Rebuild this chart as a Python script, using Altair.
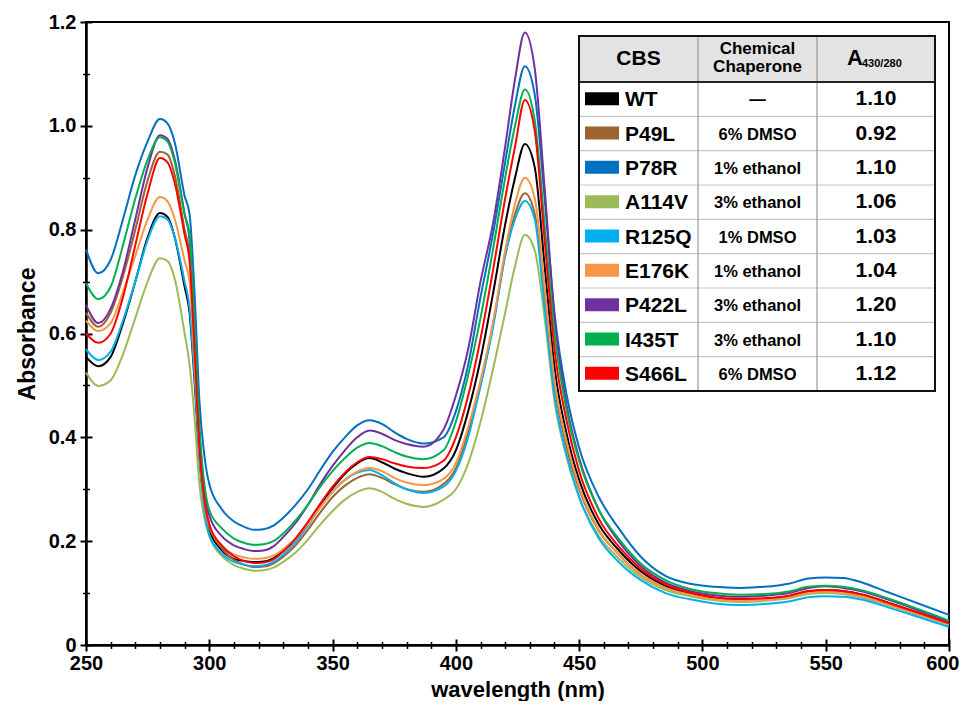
import altair as alt
import pandas as pd

# ---------------- data ----------------
wavelength = [250, 255, 260, 265, 270, 275, 280, 283, 286, 290,
              292, 294, 296, 298, 300, 305, 310, 314, 318, 322,
              326, 330, 335, 340, 345, 350, 355, 360, 365, 370,
              375, 380, 387, 395, 400, 405, 410, 415, 420, 424,
              428, 432, 436, 440, 445, 450, 458, 466, 475, 485,
              495, 505, 515, 525, 535, 543, 550, 557, 565, 575,
              587, 600]

WT = [.555, .537, .555, .62, .70, .785, .832, .825, .785, .69,
      .64, .51, .36, .27, .222, .183, .166, .162, .16, .161,
      .167, .181, .205, .235, .27, .302, .33, .35, .36, .352,
      .34, .331, .324, .34, .375, .45, .55, .675, .81, .90,
      .965, .92, .73, .535, .405, .318, .232, .183, .142, .114,
      .099, .09, .087, .089, .094, .103, .106, .104, .097, .082,
      .063, .042]
P49L = [.64, .613, .64, .71, .80, .895, .95, .945, .905, .80,
        .75, .58, .39, .285, .232, .187, .164, .155, .150, .151,
        .157, .17, .192, .222, .255, .285, .307, .322, .329, .322,
        .31, .30, .295, .31, .34, .41, .50, .615, .75, .83,
        .87, .83, .67, .50, .38, .30, .22, .175, .135, .11,
        .097, .088, .085, .087, .092, .10, .103, .10, .093, .079,
        .06, .04]
P78R = [.762, .716, .742, .82, .905, .97, 1.013, 1.005, .968, .865,
        .83, .68, .47, .365, .31, .262, .238, .228, .222, .223,
        .23, .245, .27, .30, .337, .372, .40, .423, .433, .426,
        .41, .397, .388, .40, .45, .54, .67, .79, .93, 1.04,
        1.115, 1.06, .86, .64, .48, .38, .285, .225, .17, .133,
        .118, .112, .110, .112, .118, .128, .130, .129, .12, .102,
        .081, .058]
A114V = [.525, .499, .51, .56, .63, .70, .745, .74, .705, .60,
         .54, .44, .31, .245, .21, .172, .154, .147, .143, .144,
         .149, .16, .178, .203, .232, .258, .28, .295, .302, .295,
         .282, .272, .266, .28, .30, .35, .43, .53, .64, .73,
         .79, .76, .63, .47, .36, .285, .21, .167, .13, .106,
         .094, .086, .083, .085, .09, .098, .10, .098, .091, .077,
         .059, .039]
R125Q = [.57, .549, .565, .625, .70, .78, .826, .82, .785, .70,
         .65, .52, .36, .26, .212, .176, .16, .155, .152, .153,
         .16, .174, .198, .23, .265, .295, .318, .332, .337, .327,
         .312, .30, .293, .305, .335, .40, .50, .61, .75, .82,
         .855, .82, .65, .48, .365, .285, .205, .16, .125, .10,
         .088, .08, .077, .079, .084, .092, .094, .093, .087, .073,
         .055, .035]
E176K = [.625, .605, .62, .68, .75, .82, .863, .855, .82, .74,
         .70, .55, .38, .275, .228, .192, .174, .169, .166, .167,
         .172, .185, .205, .233, .265, .295, .318, .334, .341, .335,
         .322, .313, .308, .32, .35, .42, .51, .62, .76, .85,
         .90, .86, .69, .51, .39, .305, .222, .175, .136, .11,
         .097, .088, .085, .087, .092, .10, .103, .10, .093, .079,
         .06, .04]
P422L = [.655, .620, .648, .72, .82, .92, .982, .975, .935, .83,
         .78, .61, .41, .30, .25, .21, .192, .185, .181, .182,
         .19, .208, .235, .27, .31, .345, .375, .40, .413, .407,
         .395, .387, .382, .415, .48, .57, .70, .81, .96, 1.09,
         1.18, 1.11, .88, .63, .46, .36, .26, .20, .152, .12,
         .104, .096, .093, .095, .10, .11, .113, .11, .103, .088,
         .068, .045]
I435T = [.697, .666, .69, .77, .86, .935, .978, .97, .93, .83,
         .79, .62, .42, .31, .26, .225, .205, .197, .193, .194,
         .20, .215, .24, .27, .305, .335, .36, .38, .389, .383,
         .372, .363, .358, .375, .43, .52, .63, .76, .90, 1.00,
         1.07, 1.01, .81, .60, .45, .355, .26, .205, .157, .125,
         .108, .10, .097, .098, .103, .112, .114, .112, .105, .09,
         .07, .047]
S466L = [.60, .582, .60, .67, .77, .87, .938, .93, .89, .79,
         .74, .57, .38, .28, .232, .192, .171, .162, .158, .159,
         .165, .18, .205, .237, .272, .305, .332, .352, .362, .358,
         .35, .344, .341, .355, .40, .48, .59, .72, .86, .96,
         1.05, .99, .78, .57, .43, .335, .243, .19, .147, .117,
         .101, .092, .089, .09, .095, .104, .106, .104, .097, .082,
         .063, .042]

names = ["WT", "P49L", "P78R", "A114V", "R125Q", "E176K", "P422L", "I435T", "S466L"]
chaperones = ["\u2014", "6% DMSO", "1% ethanol", "3% ethanol", "1% DMSO",
              "1% ethanol", "3% ethanol", "3% ethanol", "6% DMSO"]
ratios = ["1.10", "0.92", "1.10", "1.06", "1.03", "1.04", "1.20", "1.10", "1.12"]
colors = ["#000000", "#9C6431", "#0070C0", "#9BBB59", "#00B0F0",
          "#F79646", "#7030A0", "#00B050", "#FF0000"]

x_major = [250, 300, 350, 400, 450, 500, 550, 600]
x_minor = [260, 270, 280, 290, 310, 320, 330, 340, 360, 370, 380, 390, 410, 420, 430, 440,
           460, 470, 480, 490, 510, 520, 530, 540, 560, 570, 580, 590]
y_major = [0, 0.2, 0.4, 0.6, 0.8, 1.0, 1.2]
y_minor = [0.1, 0.3, 0.5, 0.7, 0.9, 1.1]

series = [WT, P49L, P78R, A114V, R125Q, E176K, P422L, I435T, S466L]
for s in series:
    assert len(s) == len(wavelength), len(s)

# ---------------- build tables ----------------
rows = []
for k, (nm, vals) in enumerate(zip(names, series)):
    for w, v in zip(wavelength, vals):
        rows.append({"name": nm, "k": k, "wl": w, "A": v})
df = pd.DataFrame(rows)

FONT = "Liberation Sans"
W, H = 863, 623
xscale = alt.Scale(domain=[250, 600], nice=False, zero=False)
yscale = alt.Scale(domain=[0, 1.2], nice=False, zero=True)
cscale = alt.Scale(domain=names, range=colors)

lines = alt.Chart(df).mark_line(strokeWidth=2, interpolate="monotone").encode(
    x=alt.X("wl:Q", scale=xscale, title="wavelength (nm)",
            axis=alt.Axis(orient="bottom", values=x_major, ticks=False, grid=False,
                          domain=True, domainColor="black", domainWidth=2.5,
                          labelFont=FONT, labelFontSize=20, labelFontWeight="bold",
                          labelColor="black", labelPadding=8, labelFlush=False,
                          labelAlign={"condition": {"test": "datum.value == 600", "value": "right"},
                                      "value": "center"},
                          labelOffset={"condition": {"test": "datum.value == 600", "value": 10},
                                       "value": 0},
                          titleFont=FONT, titleFontSize=22, titleFontWeight="bold",
                          titleColor="black", titlePadding=6)),
    y=alt.Y("A:Q", scale=yscale, title="Absorbance",
            axis=alt.Axis(orient="left", values=y_major, ticks=False, grid=False,
                          domain=True, domainColor="black", domainWidth=2.5,
                          labelExpr="datum.value == 0 ? '0' : format(datum.value, '.1f')",
                          labelFont=FONT, labelFontSize=20, labelFontWeight="bold",
                          labelColor="black", labelPadding=10, labelFlush=False,
                          titleFont=FONT, titleFontSize=23, titleFontWeight="bold",
                          titleColor="black", titlePadding=9)),
    color=alt.Color("name:N", scale=cscale, legend=None),
    detail="k:O",
)

dummy = pd.DataFrame({"wl": [250], "A": [0.0]})


def tick_layer(xv, yv, size, width):
    return alt.Chart(dummy).mark_point(opacity=0).encode(
        x=alt.X("wl:Q", scale=xscale, title="",
                axis=alt.Axis(orient="bottom", values=xv, labels=False, domain=False, grid=False,
                              ticks=True, tickSize=size, offset=-size / 2, tickWidth=width,
                              tickColor="black")),
        y=alt.Y("A:Q", scale=yscale, title="",
                axis=alt.Axis(orient="left", values=yv, labels=False, domain=False, grid=False,
                              ticks=True, tickSize=size, offset=-size / 2, tickWidth=width,
                              tickColor="black")),
    )


major_ticks = tick_layer(x_major, y_major, 12, 2)
minor_ticks = tick_layer(x_minor, y_minor, 7, 1.5)

# ---------------- table legend ----------------
TX0, TX1 = 493, 849
TY0, THD, TY1 = 14, 60, 369
C1, C2 = 612, 731
RH = (TY1 - THD) / len(names)

one = pd.DataFrame({"a": [0]})
tbl = pd.DataFrame({"name": names, "chap": chaperones, "ratio": ratios,
                    "i": list(range(len(names)))})

bg = alt.Chart(one).mark_rect(fill="white").encode(
    x=alt.value(TX0), x2=alt.value(TX1), y=alt.value(TY0), y2=alt.value(TY1))
head = alt.Chart(one).mark_rect(fill="#e3e3e3").encode(
    x=alt.value(TX0), x2=alt.value(TX1), y=alt.value(TY0), y2=alt.value(THD))

seps = pd.DataFrame({"i": list(range(1, len(names)))})
row_rules = alt.Chart(seps).mark_rule(color="#c8c8c8", strokeWidth=1.2).transform_calculate(
    ys=f"{THD} + datum.i * {RH}"
).encode(x=alt.value(TX0), x2=alt.value(TX1), y=alt.Y("ys:Q", scale=None, axis=None))

col_rules = alt.layer(
    alt.Chart(one).mark_rule(color="#9a9a9a", strokeWidth=1.2).encode(
        x=alt.value(C1), y=alt.value(TY0), y2=alt.value(TY1)),
    alt.Chart(one).mark_rule(color="#9a9a9a", strokeWidth=1.2).encode(
        x=alt.value(C2), y=alt.value(TY0), y2=alt.value(TY1)),
)
head_line = alt.Chart(one).mark_rule(color="#222222", strokeWidth=2).encode(
    x=alt.value(TX0), x2=alt.value(TX1), y=alt.value(THD))
border = alt.Chart(one).mark_rect(fill="transparent", stroke="#111111", strokeWidth=2).encode(
    x=alt.value(TX0), x2=alt.value(TX1), y=alt.value(TY0), y2=alt.value(TY1))

base_rows = alt.Chart(tbl).transform_calculate(
    yc=f"{THD} + (datum.i + 0.5) * {RH}",
    ya=f"{THD} + (datum.i + 0.5) * {RH} - 7",
    yb=f"{THD} + (datum.i + 0.5) * {RH} + 6",
)
swatches = base_rows.mark_rect().encode(
    x=alt.value(TX0 + 6), x2=alt.value(TX0 + 40),
    y=alt.Y("ya:Q", scale=None, axis=None), y2="yb:Q",
    color=alt.Color("name:N", scale=cscale, legend=None))
name_txt = base_rows.mark_text(align="left", baseline="middle", font=FONT, fontSize=21,
                               fontWeight="bold", color="black", dy=1).encode(
    x=alt.value(TX0 + 46), y=alt.Y("yc:Q", scale=None, axis=None), text="name:N")
chap_txt = base_rows.mark_text(align="center", baseline="middle", font=FONT, fontSize=16.5,
                               fontWeight="bold", color="black", dy=1).encode(
    x=alt.value((C1 + C2) / 2), y=alt.Y("yc:Q", scale=None, axis=None), text="chap:N")
ratio_txt = base_rows.mark_text(align="center", baseline="middle", font=FONT, fontSize=21,
                                fontWeight="bold", color="black", dy=0).encode(
    x=alt.value((C2 + TX1) / 2), y=alt.Y("yc:Q", scale=None, axis=None), text="ratio:N")


def label(txt, x, y, size, align="center"):
    return alt.Chart(one).mark_text(text=txt, align=align, baseline="middle", font=FONT,
                                    fontSize=size, fontWeight="bold", color="black").encode(
        x=alt.value(x), y=alt.value(y))


hdr = alt.layer(
    label("CBS", (TX0 + C1) / 2, 37, 21),
    label("Chemical", (C1 + C2) / 2, 27, 17),
    label("Chaperone", (C1 + C2) / 2, 45, 17),
    label("A", 761, 36, 22, "left"),
    label("430/280", 776, 42, 11, "left"),
)

chart = alt.layer(
    lines, major_ticks, minor_ticks,
    bg, head, row_rules, col_rules, head_line,
    swatches, name_txt, chap_txt, ratio_txt, hdr, border,
).resolve_scale(
    x="independent", y="independent"
).resolve_axis(
    x="independent", y="independent"
).properties(
    width=W, height=H,
    autosize=alt.AutoSizeParams(type="none"),
    padding={"left": 78, "top": 14, "right": 11, "bottom": 56},
).configure_view(
    stroke="black", strokeWidth=2
)

chart.save("out.html", embed_options={"renderer": "svg", "actions": False})
